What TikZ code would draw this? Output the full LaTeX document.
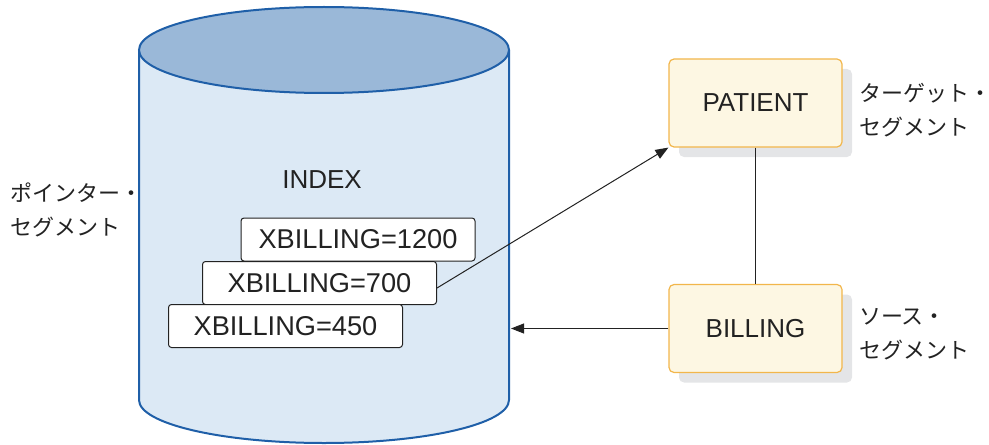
\documentclass[tikz,border=0pt]{standalone}
\usepackage{fontspec}
\setmainfont{Liberation Sans}
\newfontfamily\jpfont{Noto Sans CJK JP}
\usetikzlibrary{arrows.meta, positioning, shadows}
\definecolor{indexblue}{HTML}{1F5FA8}
\definecolor{indextop}{HTML}{9AB8D8}
\definecolor{indexbody}{HTML}{DCE9F5}
\definecolor{segorange}{HTML}{F2B64B}
\definecolor{segcream}{HTML}{FDF7E3}
\definecolor{segshadow}{HTML}{E4E5E7}
\definecolor{inkgray}{HTML}{222222}

\begin{document}
\begin{tikzpicture}[
    x=0.5pt, y=-0.5pt,
    keybox/.style={
        draw=inkgray, fill=white, rounded corners=1.5pt,
        line width=0.5pt, inner sep=0pt,
        minimum width=117pt, minimum height=21.5pt,
        font=\fontsize{13.6}{15}\selectfont, text=inkgray,
    },
    segment/.style={
        draw=segorange, fill=segcream, rounded corners=2.5pt,
        line width=0.6pt, inner sep=0pt,
        minimum width=86.5pt, minimum height=44pt,
        drop shadow={shadow xshift=5pt, shadow yshift=-5pt, fill=segshadow, opacity=1},
        font=\fontsize{13}{15}\selectfont, text=inkgray,
    },
    note/.style={
        font=\jpfont\fontsize{11}{17}\selectfont,
        text=inkgray, align=left, anchor=west, inner sep=0pt,
    },
    link/.style={draw=inkgray, line width=0.5pt},
]
\useasboundingbox (0,0) rectangle (989,444);

\path[fill=indexbody, draw=indexblue, line width=1pt]
    (139,50) -- (139,400)
    arc[start angle=180, end angle=360, x radius=92.5pt, y radius=21.5pt]
    -- (509,50);
\draw[fill=indextop, draw=indexblue, line width=1pt]
    (324,50) ellipse[x radius=92.5pt, y radius=21.5pt];
\coordinate (idxedge) at (511,328.5);

\node[font=\fontsize{13}{15}\selectfont, text=inkgray] (index) at (322,180) {INDEX};
\node[keybox] (x1200) at (358,239.5) {XBILLING=1200};
\node[keybox] (x700) at (319.5,283) {XBILLING=700};
\node[keybox] (x450) at (285.5,326) {XBILLING=450};

\node[segment] (patient) at (755.5,103) {PATIENT};
\node[segment] (billing) at (755.5,328.5) {BILLING};

\node[note, right=8pt of patient, yshift=-3.5pt] (tgtnote) {ターゲット・\\セグメント};
\node[note, right=8pt of billing, yshift=-3pt] (srcnote) {ソース・\\セグメント};
\node[note] (ptrnote) at (10,210) {ポインター・\\セグメント};

\draw[link] (patient) -- (billing);
\draw[link, -{Triangle[length=6.5pt, width=5pt]}] ([yshift=-2.5pt]x700.east) -- (patient.south west);
\draw[link, -{Triangle[length=6.5pt, width=5pt]}] (billing) -- (idxedge);

\end{tikzpicture}
\end{document}
